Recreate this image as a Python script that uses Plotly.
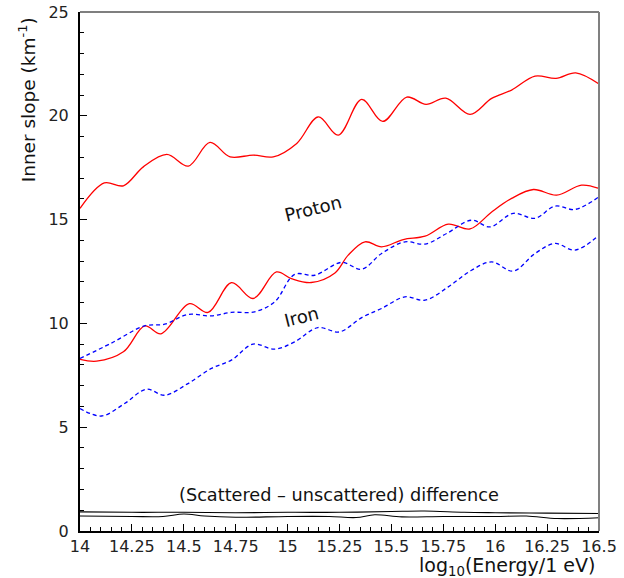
import plotly.graph_objects as go

# ---- data ----
proton_upper_x = [14.0, 14.117, 14.209, 14.305, 14.418, 14.522, 14.626, 14.723, 14.835, 14.931,
                  15.044, 15.148, 15.244, 15.357, 15.458, 15.574, 15.667, 15.762, 15.879, 15.983,
                  16.079, 16.192, 16.293, 16.388, 16.5]
proton_upper_y = [15.54, 16.77, 16.63, 17.54, 18.14, 17.58, 18.72, 18.02, 18.11, 18.02,
                  18.67, 19.95, 19.07, 20.79, 19.73, 20.90, 20.55, 20.85, 20.07, 20.84,
                  21.24, 21.91, 21.80, 22.07, 21.53]

proton_lower_x = [14.0, 14.08, 14.209, 14.312, 14.39, 14.527, 14.617, 14.73, 14.834, 14.946,
                  15.018, 15.114, 15.228, 15.292, 15.373, 15.453, 15.557, 15.662, 15.774, 15.879,
                  15.983, 16.079, 16.184, 16.296, 16.416, 16.5]
proton_lower_y = [8.27, 8.18, 8.63, 9.88, 9.5, 10.95, 10.53, 11.96, 11.2, 12.48,
                  12.16, 11.97, 12.43, 13.29, 13.93, 13.69, 14.04, 14.2, 14.78, 14.55,
                  15.37, 16.02, 16.45, 16.18, 16.66, 16.5]

iron_upper_x = [14.0, 14.151, 14.311, 14.408, 14.52, 14.633, 14.729, 14.841, 14.938, 15.034,
                15.13, 15.26, 15.357, 15.453, 15.565, 15.662, 15.766, 15.886, 15.975, 16.087,
                16.192, 16.288, 16.384, 16.5]
iron_upper_y = [8.31, 9.05, 9.88, 9.96, 10.43, 10.36, 10.53, 10.56, 11.04, 12.36,
                12.32, 12.94, 12.61, 13.37, 13.93, 13.82, 14.33, 14.97, 14.65, 15.3,
                15.06, 15.65, 15.49, 16.1]

iron_lower_x = [14.0, 14.103, 14.215, 14.32, 14.408, 14.52, 14.633, 14.729, 14.833, 14.938,
                15.034, 15.146, 15.25, 15.357, 15.453, 15.565, 15.662, 15.774, 15.886, 15.983,
                16.087, 16.192, 16.288, 16.384, 16.5]
iron_lower_y = [5.9, 5.54, 6.14, 6.83, 6.54, 7.1, 7.83, 8.23, 9.0, 8.76,
                9.11, 9.8, 9.59, 10.28, 10.72, 11.28, 11.12, 11.76, 12.56, 12.96,
                12.52, 13.37, 13.85, 13.53, 14.25]

diff_upper_x = [14.0, 14.25, 14.5, 14.75, 15.0, 15.25, 15.5, 15.66, 15.85, 16.0, 16.25, 16.5]
diff_upper_y = [0.92, 0.9, 0.9, 0.88, 0.9, 0.9, 0.94, 0.96, 0.9, 0.88, 0.86, 0.84]

diff_lower_x = [14.0, 14.25, 14.4, 14.5, 14.6, 14.75, 15.0, 15.2, 15.33, 15.42, 15.55, 15.75,
                16.0, 16.15, 16.3, 16.5]
diff_lower_y = [0.72, 0.7, 0.7, 0.82, 0.72, 0.66, 0.7, 0.7, 0.65, 0.78, 0.68, 0.7,
                0.7, 0.72, 0.6, 0.64]

x_tick_vals = [14, 14.25, 14.5, 14.75, 15, 15.25, 15.5, 15.75, 16, 16.25, 16.5]
x_tick_text = ["14", "14.25", "14.5", "14.75", "15", "15.25", "15.5", "15.75", "16", "16.25", "16.5"]
y_tick_vals = [0, 5, 10, 15, 20, 25]
y_tick_text = ["0", "5", "10", "15", "20", "25"]

FONT = "DejaVu Sans"
RED = "#ff0000"
BLUE = "#0000ff"

fig = go.Figure()

def add_line(x, y, color, dash="solid", width=1.3):
    fig.add_trace(go.Scatter(x=x, y=y, mode="lines",
                             line=dict(color=color, width=width, dash=dash,
                                       shape="spline", smoothing=1.0),
                             showlegend=False, hoverinfo="skip"))

add_line(proton_upper_x, proton_upper_y, RED)
add_line(proton_lower_x, proton_lower_y, RED)
add_line(iron_upper_x, iron_upper_y, BLUE, dash="4px,3px")
add_line(iron_lower_x, iron_lower_y, BLUE, dash="4px,3px")
add_line(diff_upper_x, diff_upper_y, "#000000", width=1.1)
add_line(diff_lower_x, diff_lower_y, "#000000", width=1.1)

lab = dict(family=FONT, size=18, color="#111")
fig.add_annotation(x=15.122, y=15.55, text="Proton", showarrow=False, textangle=-14,
                   font=lab, xanchor="center", yanchor="middle")
fig.add_annotation(x=15.069, y=10.35, text="Iron", showarrow=False, textangle=-14,
                   font=lab, xanchor="center", yanchor="middle")
fig.add_annotation(x=15.248, y=1.72, text="(Scattered – unscattered) difference",
                   showarrow=False, font=dict(family=FONT, size=17.7, color="#111"),
                   xanchor="center", yanchor="middle")
fig.add_annotation(xref="paper", yref="paper", x=-0.102, y=0.83,
                   text="Inner slope (km<sup>-1</sup>)", showarrow=False, textangle=-90,
                   font=dict(family=FONT, size=18.5, color="#111"),
                   xanchor="center", yanchor="middle")
fig.add_annotation(xref="paper", yref="paper", x=0.996, y=-0.069,
                   text="log<sub>10</sub>(Energy/1 eV)", showarrow=False,
                   font=dict(family=FONT, size=19, color="#111"),
                   xanchor="right", yanchor="middle")

# frame: top thin black, right gray
fig.add_shape(type="line", xref="paper", yref="paper", x0=0, x1=1, y0=1, y1=1,
              line=dict(color="#000", width=1.2))
fig.add_shape(type="line", xref="paper", yref="paper", x0=1, x1=1, y0=0, y1=1,
              line=dict(color="#808080", width=2))

fig.update_layout(
    width=624, height=578,
    margin=dict(l=80, r=25, t=12, b=47, autoexpand=False),
    paper_bgcolor="white", plot_bgcolor="white",
    font=dict(family=FONT, size=16, color="#222"),
    hovermode=False,
    xaxis=dict(range=[14, 16.5], tickvals=x_tick_vals, ticktext=x_tick_text,
               ticks="inside", ticklen=7, tickwidth=1, tickcolor="#000",
               minor=dict(dtick=0.05, tick0=14, ticks="inside", ticklen=4, tickcolor="#000"),
               showline=True, linecolor="#000", linewidth=2, showgrid=False,
               zeroline=False, automargin=False, ticklabeloverflow="allow",
               tickfont=dict(family=FONT, size=16, color="#222")),
    yaxis=dict(range=[0, 25], tickvals=y_tick_vals, ticktext=y_tick_text,
               ticks="inside", ticklen=7, tickwidth=1, tickcolor="#000",
               minor=dict(dtick=1, tick0=0, ticks="inside", ticklen=4, tickcolor="#000"),
               showline=True, linecolor="#000", linewidth=2, showgrid=False,
               zeroline=False, automargin=False, ticklabelstandoff=6,
               ticklabeloverflow="allow",
               tickfont=dict(family=FONT, size=16, color="#222")),
)

# remove the browser's default 8px page margin so the figure sits at the window's corner
fig.write_html("out.html", config={"displayModeBar": False, "staticPlot": True},
               post_script="document.body.style.margin='0';document.body.style.overflow='hidden';")
